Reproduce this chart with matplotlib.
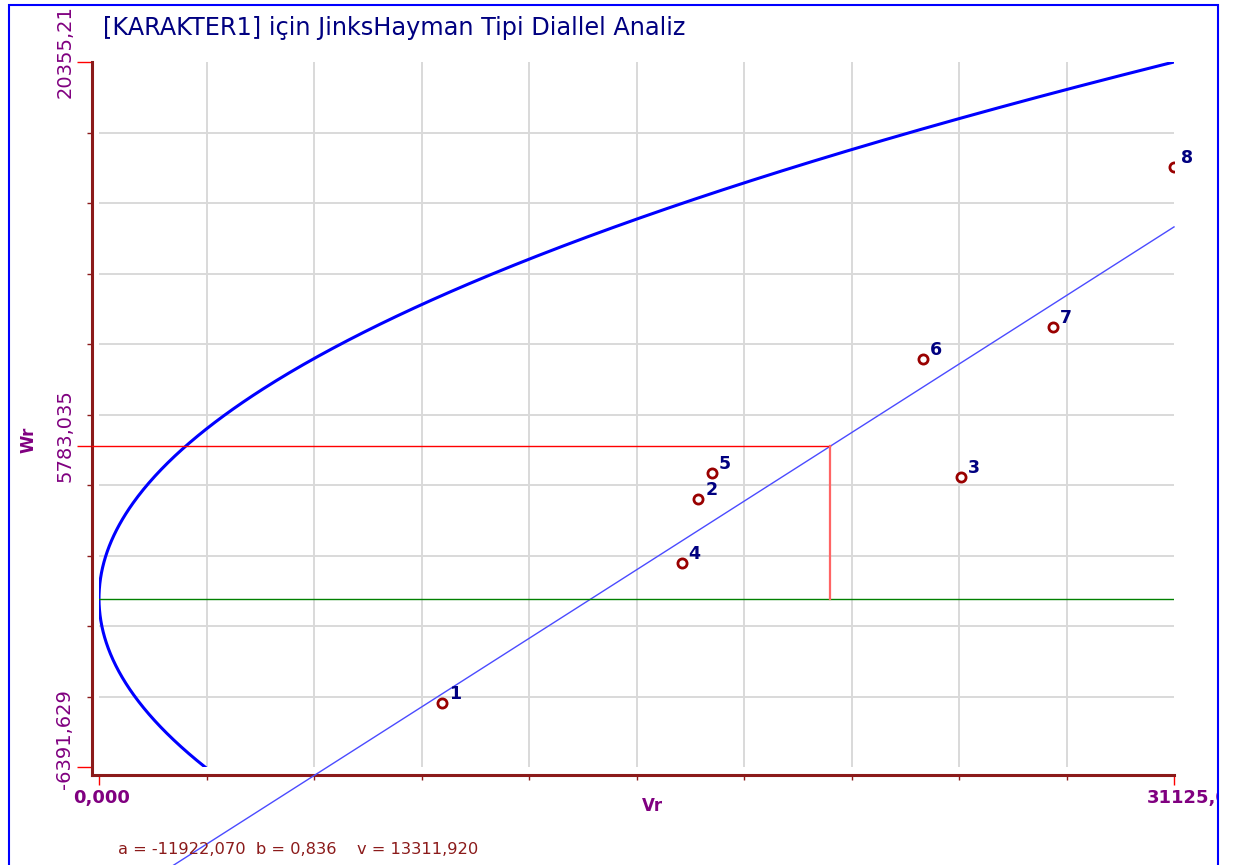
import numpy as np
import matplotlib
matplotlib.use("Agg")
import matplotlib.pyplot as plt
from matplotlib.patches import Rectangle
from matplotlib.transforms import ScaledTranslation, Bbox, TransformedBbox

# parents with their variance (Vr) and parent-offspring covariance (Wr)
parents = ["1", "2", "3", "4", "5", "6", "7", "8"]
vr = [9922, 17352, 24949, 16871, 17740, 23866, 27630, 31125]
wr = [-3975, 3764, 4599, 1359, 4751, 9076, 10290, 16372]

# regression Wr = a + b*Vr, parental variance v (limit parabola Wr^2 = v*Vr)
a_coef = -11922.070
b_coef = 0.836
v_par = 13311.920
wr_mean = 5783.035

# axis range
x_min, x_max = 0.0, 31125.0
y_min, y_max = -6391.629, 20355.21

title = "[KARAKTER1] için JinksHayman Tipi Diallel Analiz"

AXIS = "#8b1a1a"
PURPLE = "#800080"
NAVY = "#000080"
MARK = "#990000"

W, H = 1236, 865


def comma(val, nd):
    return f"{val:.{nd}f}".replace(".", ",")


fig = plt.figure(figsize=(W / 100, H / 100), dpi=100)
ax = fig.add_axes([99 / W, 98 / H, 1075 / W, 705 / H])
ax.set_xlim(x_min, x_max)
ax.set_ylim(y_min, y_max)

# spines pushed out from the plot area, dark red
# (set_position resets the ticks, so this comes before the tick styling)
px_x = (x_max - x_min) / 1075
px_y = (y_max - y_min) / 705
for side in ("top", "right"):
    ax.spines[side].set_visible(False)
ax.spines["left"].set_position(("outward", 5.0))
ax.spines["bottom"].set_position(("outward", 5.8))
ax.spines["left"].set_bounds(y_min - 8 * px_y, y_max)
ax.spines["bottom"].set_bounds(x_min - 7 * px_x, x_max)
for side in ("left", "bottom"):
    ax.spines[side].set_color(AXIS)
    ax.spines[side].set_linewidth(2.2)
    ax.spines[side].set_capstyle("projecting")

# grid on 10 equal divisions
ax.set_xticks(np.linspace(x_min, x_max, 11), minor=True)
ax.set_yticks(np.linspace(y_min, y_max, 11), minor=True)
ax.grid(which="minor", color="#d9d9d9", lw=1.4)
ax.grid(which="major", visible=False)
ax.set_axisbelow(True)

ax.set_xticks([x_min, x_max])
ax.set_xticklabels([comma(x_min, 3), comma(x_max, 3)])
ax.set_yticks([y_min, wr_mean, y_max])
ax.set_yticklabels([comma(y_min, 3), comma(wr_mean, 3), comma(y_max, 2)])

ax.tick_params(which="minor", length=3.6, width=1, color=AXIS, direction="out")
ax.xaxis.set_tick_params(which="major", length=7, width=1, color="red",
                         pad=3, labelsize=13, labelcolor=PURPLE)
ax.yaxis.set_tick_params(which="major", length=10.8, width=1, color="red",
                         pad=2, labelsize=14, labelcolor=PURPLE)
for lab in ax.get_xticklabels():
    lab.set_fontweight("bold")
plt.setp(ax.get_yticklabels(), rotation=90, va="center")

# limit parabola
t = np.linspace(0, 1, 400) ** 2
v_up = x_max * t
v_lo = (y_min ** 2 / v_par) * t
px = np.concatenate([v_lo[::-1], v_up])
py = np.concatenate([-np.sqrt(v_par * v_lo[::-1]), np.sqrt(v_par * v_up)])
ax.plot(px, py, color="#0000ff", lw=2.2, zorder=3)

# regression line
rx = np.array([x_min, x_max])
ax.plot(rx, a_coef + b_coef * rx, color="#4b4bff", lw=1.0, zorder=3, clip_on=False)

# Wr = 0 line
ax.plot([x_min, x_max], [0, 0], color="#008000", lw=1.0, zorder=3)

# mean lines
vr_mean = (wr_mean - a_coef) / b_coef
ax.plot([x_min - 7 * px_x, vr_mean], [wr_mean, wr_mean], color="#ff0000",
        lw=1.0, zorder=3, clip_on=False)
ax.plot([vr_mean, vr_mean], [0, wr_mean], color="#ff6464", lw=1.6, zorder=3)

# parents
ax.plot(vr, wr, "o", mfc="white", mec=MARK, ms=6.6, mew=2.0, zorder=5)
for name, x, y in zip(parents, vr, wr):
    ax.annotate(name, (x, y), xytext=(5, 3), textcoords="offset points",
                fontsize=12.5, fontweight="bold", color=NAVY,
                ha="left", va="baseline", annotation_clip=False, zorder=6)

# outer blue frame
frame = Rectangle((8.5 / W, -0.05), (1218 - 8.5) / W, 1 - 5 / H + 0.05,
                  transform=fig.transFigure, fill=False, edgecolor="#0000ff",
                  lw=1.5, zorder=10)
fig.add_artist(frame)
clip = TransformedBbox(Bbox.from_extents(0, 0, 1217 / W, 1), fig.transFigure)

# label placement tweaks
yoffs = [28, 11, 10]
for lab, dy in zip(ax.get_yticklabels(), yoffs):
    lab.set_transform(lab.get_transform() + ScaledTranslation(0, dy / 100, fig.dpi_scale_trans))
xl = ax.get_xticklabels()
xl[0].set_transform(xl[0].get_transform() + ScaledTranslation(3 / 100, 0, fig.dpi_scale_trans))
xl[1].set_ha("left")
xl[1].set_transform(xl[1].get_transform() + ScaledTranslation(-27 / 100, 0, fig.dpi_scale_trans))
xl[1].set_clip_box(clip)
xl[1].set_clip_on(True)

fig.text(652 / W, 1 - 806 / H, "Vr", ha="center", va="center",
         fontsize=12, fontweight="bold", color=PURPLE)
fig.text(28 / W, 1 - 440 / H, "Wr", ha="center", va="center", rotation=90,
         fontsize=12, fontweight="bold", color=PURPLE)
fig.text(103 / W, 1 - 28 / H, title, ha="left", va="center",
         fontsize=17.3, color=NAVY)
stats = f"a = {comma(a_coef, 3)}  b = {comma(b_coef, 3)}    v = {comma(v_par, 3)}"
fig.text(118 / W, 1 - 850 / H, stats, ha="left", va="center",
         fontsize=11.7, color=AXIS)

fig.savefig("out.png", dpi=100)
